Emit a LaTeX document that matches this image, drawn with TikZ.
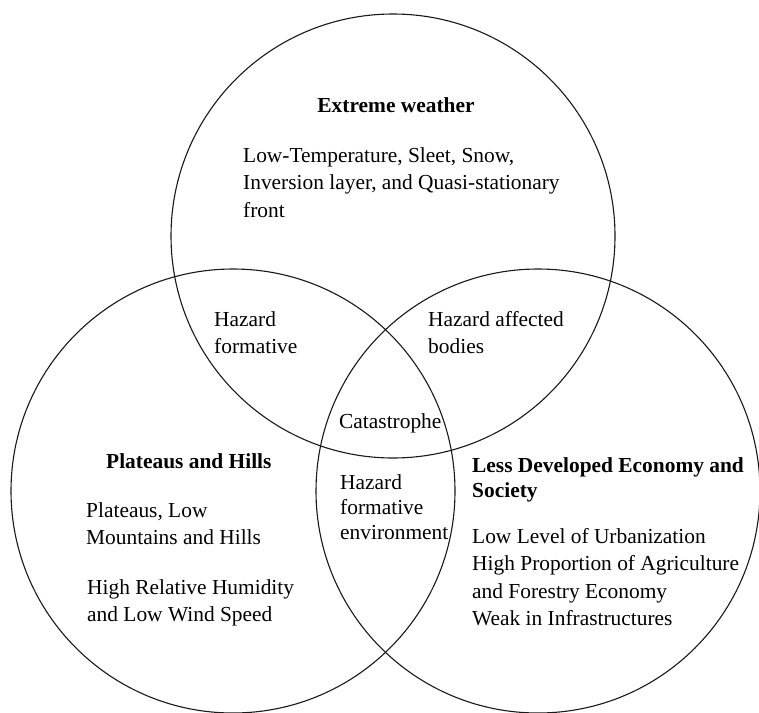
\documentclass[tikz,border=0pt]{standalone}
\usepackage{fontspec}
\setmainfont{Liberation Serif}
\newcommand{\stack}[1]{\begin{tabular}[t]{@{}l@{}}#1\end{tabular}}
\begin{document}
\begin{tikzpicture}[x=1pt,y=-1pt,
  ring/.style={draw=black!90, line width=1.1pt},
  txt/.style={anchor=base west, inner sep=0pt, font=\fontsize{21.4}{27.5}\selectfont},
  tight/.style={anchor=base west, inner sep=0pt, font=\fontsize{21.4}{25}\selectfont},
  head/.style={anchor=base, inner sep=0pt, font=\fontsize{21.4}{25}\selectfont\bfseries}]
  \useasboundingbox (0,0) rectangle (759,712);
  \fill[white] (0,0) rectangle (759,712);

  % the three sets
  \draw[ring] (393,236) circle[radius=222pt];
  \draw[ring] (233,491) circle[radius=222pt];
  \draw[ring] (538,491) circle[radius=222pt];

  % extreme weather
  \node[head] (wtitle) at (396,112) {Extreme weather};
  \node[txt] (wbody) at (243,162) {\stack{Low-Temperature, Sleet, Snow,\\Inversion layer, and Quasi-stationary\\front}};

  % pairwise overlaps
  \node[txt] (formative) at (214,326) {\stack{Hazard\\formative}};
  \node[txt] (affected) at (428,326) {\stack{Hazard affected\\bodies}};
  \node[txt] (catastrophe) at (339,428) {Catastrophe};
  \node[tight] (environment) at (340,489) {\stack{Hazard\\formative\\environment}};

  % plateaus and hills
  \node[txt, font=\fontsize{21.4}{25}\selectfont\bfseries] (ptitle) at (106,468) {Plateaus and Hills};
  \node[txt] (pbody) at (86,517) {\stack{Plateaus, Low\\Mountains and Hills}};
  \node[txt] (pclimate) at (87,594) {\stack{High Relative Humidity\\and Low Wind Speed}};

  % economy and society
  \node[tight, font=\fontsize{21.4}{25}\selectfont\bfseries] (stitle) at (472,472) {\stack{Less Developed Economy and\\Society}};
  \node[txt] (sbody) at (472,543) {\stack{Low Level of Urbanization\\High Proportion of Agriculture\\and Forestry Economy\\Weak in Infrastructures}};
\end{tikzpicture}
\end{document}
